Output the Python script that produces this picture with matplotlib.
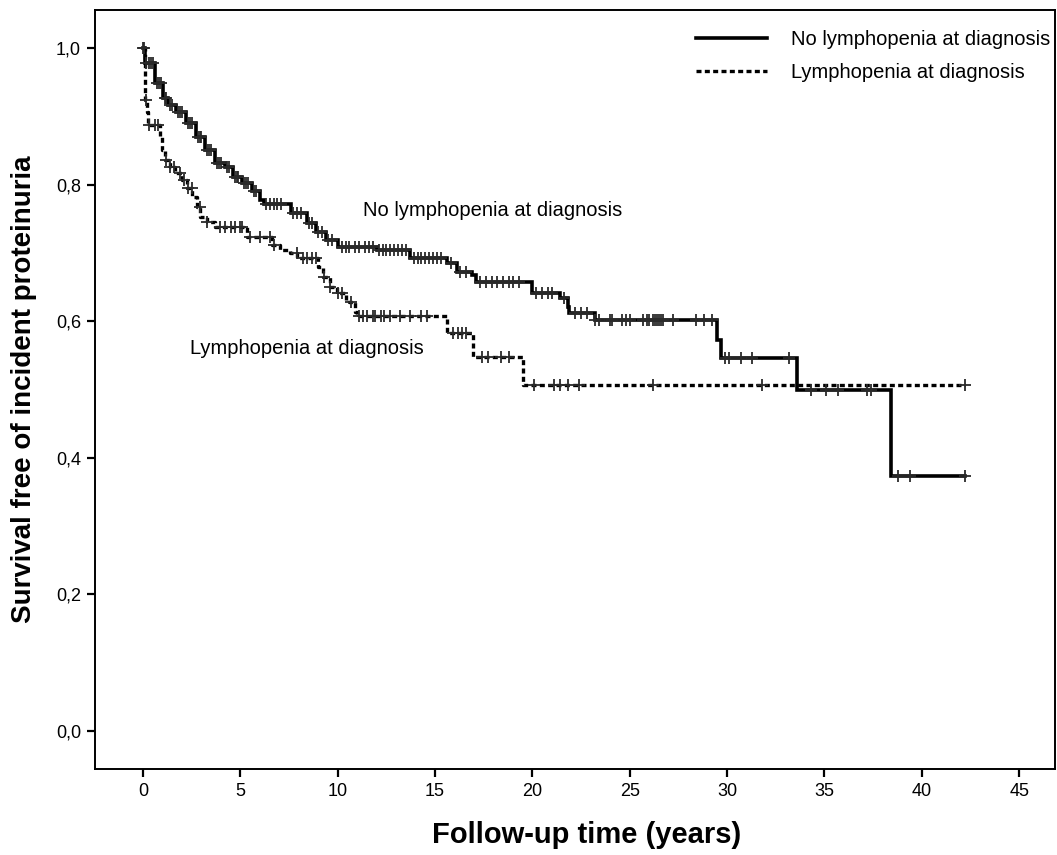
import numpy as np
import matplotlib
matplotlib.use("Agg")
import matplotlib.pyplot as plt
from matplotlib import font_manager as fm

# ---------------- data ----------------
# No lymphopenia at diagnosis: step times and survival after each step
nolym_t = [0.0, 0.1, 0.6, 1.0, 1.3, 1.7, 2.2, 2.7, 3.2, 3.7, 4.2, 4.6, 5.1, 5.6, 6.0, 6.2,
           7.6, 8.4, 8.9, 9.4, 10.0, 12.0, 13.7, 15.6, 16.1, 16.9, 17.1, 20.0, 21.4, 21.8,
           21.9, 23.2, 29.5, 29.7, 33.6, 38.4]
nolym_s = [1.000, 0.978, 0.949, 0.927, 0.917, 0.906, 0.890, 0.870, 0.851, 0.832, 0.826, 0.811,
           0.802, 0.790, 0.777, 0.772, 0.758, 0.744, 0.731, 0.719, 0.709, 0.704, 0.692, 0.685,
           0.672, 0.668, 0.657, 0.641, 0.634, 0.621, 0.612, 0.602, 0.572, 0.546, 0.499, 0.374]
nolym_end = 42.2
nolym_cens = [0.05, 0.15, 0.3, 0.4, 0.5, 0.7, 0.8, 0.9, 1.1, 1.2, 1.4, 1.5, 1.8, 1.9, 2.0, 2.3,
              2.4, 2.5, 2.8, 2.9, 3.0, 3.3, 3.4, 3.5, 3.8, 3.9, 4.0, 4.3, 4.4, 4.7, 4.8, 4.9,
              5.2, 5.3, 5.4, 5.7, 5.8, 6.3, 6.5, 6.7, 6.9, 7.1, 7.7, 7.9, 8.1, 8.5, 8.7, 9.0,
              9.2, 9.5, 9.7, 10.2, 10.4, 10.6, 10.9, 11.1, 11.4, 11.6, 11.8, 12.1, 12.3, 12.5,
              12.7, 12.9, 13.1, 13.3, 13.5, 13.9, 14.1, 14.3, 14.5, 14.7, 14.9, 15.1, 15.3,
              15.8, 16.3, 16.6, 17.3, 17.6, 17.9, 18.2, 18.5, 18.8, 19.0, 19.3, 20.2, 20.5,
              20.8, 21.0, 21.6, 22.2, 22.5, 22.8, 23.2, 23.4, 24.0, 24.1, 24.6, 24.8, 25.0,
              25.7, 25.9, 26.0, 26.2, 26.3, 26.4, 26.5, 26.6, 26.7, 27.2, 28.4, 28.8, 29.2,
              29.9, 30.1, 30.7, 31.3, 33.2, 34.3, 35.1, 35.7, 37.2, 37.4, 38.8, 39.4, 42.2]

# Lymphopenia at diagnosis
lym_t = [0.0, 0.1, 0.2, 0.26, 0.87, 0.98, 1.13, 1.39, 1.64, 2.0, 2.26, 2.52, 2.77, 2.93, 3.29,
         3.7, 5.34, 6.63, 7.04, 7.55, 7.91, 8.99, 9.25, 9.6, 9.96, 10.4, 10.6, 10.9, 11.0,
         15.6, 16.95, 19.5]
lym_s = [1.000, 0.924, 0.906, 0.887, 0.870, 0.851, 0.836, 0.826, 0.817, 0.807, 0.795, 0.782,
         0.767, 0.753, 0.745, 0.738, 0.723, 0.711, 0.704, 0.700, 0.692, 0.680, 0.665, 0.650,
         0.641, 0.631, 0.628, 0.613, 0.608, 0.583, 0.548, 0.507]
lym_end = 42.2
lym_cens = [0.02, 0.15, 0.3, 0.6, 0.75, 1.2, 1.4, 1.6, 1.9, 2.1, 2.3, 2.5, 2.9, 3.3, 3.95, 4.2,
            4.5, 4.7, 5.0, 5.1, 5.5, 6.0, 6.5, 6.7, 7.9, 8.2, 8.4, 8.7, 8.9, 9.3, 9.6, 10.0,
            10.2, 10.7, 11.1, 11.3, 11.5, 11.8, 11.9, 12.2, 12.4, 12.7, 13.2, 13.7, 14.3,
            14.6, 15.9, 16.2, 16.4, 16.6, 17.4, 17.7, 18.4, 18.8, 20.1, 21.1, 21.4, 21.8,
            22.4, 26.2, 31.8, 42.2]

x_ticks = [0, 5, 10, 15, 20, 25, 30, 35, 40, 45]
y_ticks = [0.0, 0.2, 0.4, 0.6, 0.8, 1.0]
y_ticklabels = ["0,0", "0,2", "0,4", "0,6", "0,8", "1,0"]
label_nolym = "No lymphopenia at diagnosis"
label_lym = "Lymphopenia at diagnosis"

# ---------------- fonts ----------------
names = {f.name for f in fm.fontManager.ttflist}
narrow = "Liberation Sans Narrow" if "Liberation Sans Narrow" in names else "Liberation Sans"
regular = "Liberation Sans"

# ---------------- plot ----------------
fig = plt.figure(figsize=(10.57, 8.55), dpi=100)
ax = fig.add_axes([95 / 1057, 1 - 769 / 855, (1055 - 95) / 1057, (769 - 10) / 855])


def step_lookup(t_arr, s_arr, times):
    t_arr = np.asarray(t_arr)
    s_arr = np.asarray(s_arr)
    idx = np.searchsorted(t_arr, np.asarray(times), side="right") - 1
    return s_arr[idx]


def draw(t, s, end, cens, **kw):
    tt = list(t) + [end]
    ss = list(s) + [s[-1]]
    line, = ax.step(tt, ss, where="post", color="black", **kw)
    ax.plot(cens, step_lookup(t, s, cens), linestyle="none", marker="+",
            markersize=9, markeredgewidth=1.3, color="#2a2a2a", zorder=3)
    return line


l1 = draw(nolym_t, nolym_s, nolym_end, nolym_cens, linewidth=2.6, solid_joinstyle="miter")
l2 = draw(lym_t, lym_s, lym_end, lym_cens, linewidth=2.4, dashes=(1.5, 1.0))

ax.set_xlim(-2.47, 46.84)
ax.set_ylim(-0.0556, 1.0556)
ax.set_xticks(x_ticks)
ax.set_xticklabels([str(v) for v in x_ticks], fontfamily=narrow, fontsize=13)
ax.set_yticks(y_ticks)
ax.set_yticklabels(y_ticklabels, fontfamily=narrow, fontsize=13)
ax.tick_params(axis="both", direction="out", length=6, width=1.6, pad=4)
for sp in ax.spines.values():
    sp.set_linewidth(1.4)

ax.set_xlabel("Follow-up time (years)", fontfamily=narrow, fontweight="bold",
              fontsize=21)
ax.xaxis.set_label_coords(0.512, -0.069)
ax.set_ylabel("Survival free of incident proteinuria", fontfamily=regular,
              fontweight="bold", fontsize=20, labelpad=14)

ax.text(11.3, 0.762, label_nolym, fontfamily=regular, fontsize=14.5, va="center", ha="left")
ax.text(2.4, 0.560, label_lym, fontfamily=regular, fontsize=14.5, va="center", ha="left")

leg = ax.legend([l1, l2], [label_nolym, label_lym], loc="upper right",
                bbox_to_anchor=(1.016, 1.0), frameon=False,
                prop={"family": regular, "size": 14.5}, handlelength=3.5,
                handletextpad=1.2, labelspacing=0.7, borderaxespad=0.6)

fig.savefig("out.png", dpi=100)
